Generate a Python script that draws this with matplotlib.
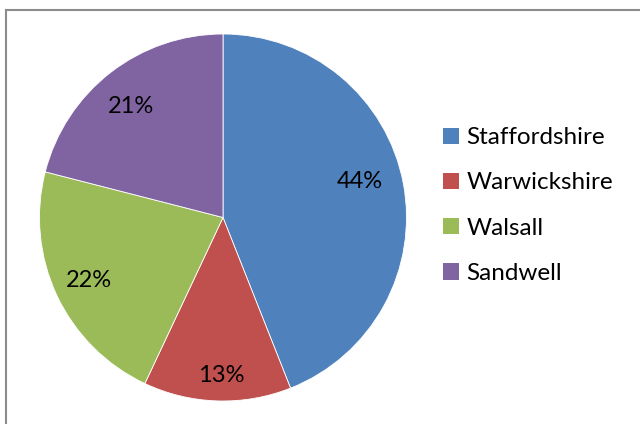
import numpy as np
import matplotlib.pyplot as plt
from matplotlib.lines import Line2D
from matplotlib.patches import Patch

plt.rcParams['font.family'] = ['Lato', 'DejaVu Sans']

regions = ['Staffordshire', 'Warwickshire', 'Walsall', 'Sandwell']
shares = [44, 13, 22, 21]
colours = ['#4F81BD', '#C0504D', '#9BBB59', '#8064A2']
# Excel "best fit" label placement: distance (fraction of radius) and angle nudge (deg)
label_dist = [0.77, 0.86, 0.81, 0.785]
label_turn = [4, 1, 0, 2]

fig = plt.figure(figsize=[6.4, 4.24], dpi=100)

# chart frame (only top and left edges visible in the crop)
fig.add_artist(Line2D([6/640, 6/640], [0, 1 - 10/424], color='#8c8c8c', lw=1.5))
fig.add_artist(Line2D([6/640, 1], [1 - 10/424, 1 - 10/424], color='#8c8c8c', lw=1.5))

cx, cy, r = 223, 217.5, 183.5
ax = fig.add_axes([(cx - r)/640, (424 - cy - r)/424, 2*r/640, 2*r/424])

wedges, texts, autotexts = ax.pie(
    shares, colors=colours, startangle=90, counterclock=False,
    autopct='%d%%', pctdistance=0.8, radius=1,
    wedgeprops=dict(edgecolor='white', linewidth=0.6),
    textprops=dict(fontsize=17, color='black'))

for w, t, d, turn in zip(wedges, autotexts, label_dist, label_turn):
    ang = np.deg2rad((w.theta1 + w.theta2) / 2 + turn)
    t.set_position((d * np.cos(ang), d * np.sin(ang)))

ax.set_xlim(-1, 1)
ax.set_ylim(-1, 1)
ax.set_aspect('equal')
ax.axis('off')

handles = [Patch(facecolor=c, edgecolor='none') for c in colours]
fig.legend(handles, regions, loc='upper left', bbox_to_anchor=(431/640, 1 - 115/424),
           frameon=False, fontsize=17.5, handlelength=0.65, handleheight=0.65,
           handletextpad=0.3, labelspacing=1.0, borderpad=0)

fig.savefig('out.png', dpi=100)
